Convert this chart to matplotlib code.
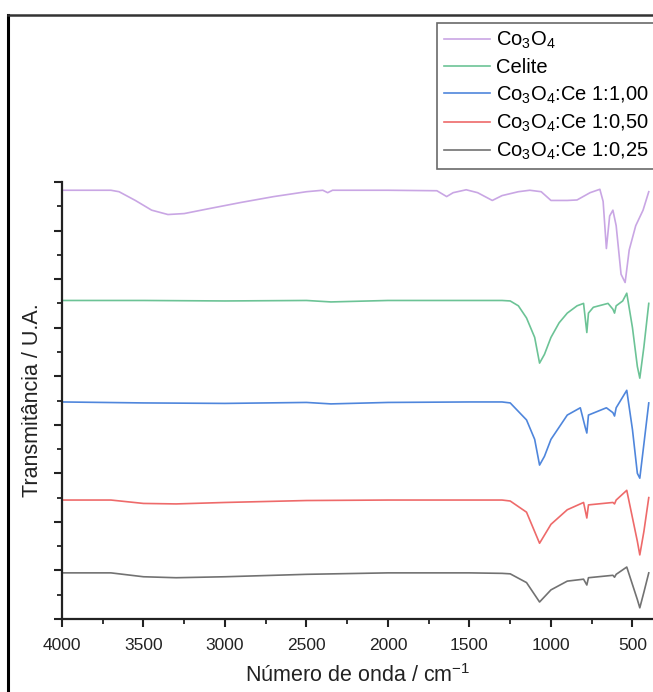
import numpy as np
import matplotlib.pyplot as plt
from matplotlib.lines import Line2D
from matplotlib.ticker import MultipleLocator, NullFormatter

plt.rcParams['font.family'] = ['Liberation Sans', 'DejaVu Sans']
plt.rcParams['mathtext.fontset'] = 'custom'
plt.rcParams['mathtext.rm'] = 'Liberation Sans'
plt.rcParams['mathtext.it'] = 'Liberation Sans:italic'

# FTIR spectra (wavenumber in cm-1, transmittance in stacked U.A.)
co3o4_x = [4000, 3700, 3650, 3550, 3450, 3350, 3250, 3100, 2900, 2700, 2500, 2400, 2370, 2340,
           2000, 1700, 1640, 1600, 1520, 1450, 1360, 1300, 1200, 1130, 1060, 1000, 900, 840,
           760, 700, 680, 660, 640, 620, 600, 570, 545, 520, 480, 435, 400]
co3o4_y = [8.83, 8.83, 8.80, 8.62, 8.42, 8.33, 8.35, 8.45, 8.58, 8.70, 8.80, 8.83, 8.78, 8.83,
           8.83, 8.82, 8.70, 8.78, 8.84, 8.78, 8.62, 8.72, 8.80, 8.83, 8.80, 8.62, 8.62, 8.63,
           8.78, 8.85, 8.60, 7.63, 8.30, 8.42, 8.10, 7.10, 6.93, 7.60, 8.10, 8.42, 8.80]

celite_x = [4000, 3500, 3000, 2500, 2350, 2000, 1500, 1300, 1250, 1200, 1150, 1100, 1070, 1040,
            1000, 950, 900, 840, 800, 790, 780, 770, 740, 650, 620, 610, 600, 560, 535, 500,
            470, 455, 430, 400]
celite_y = [6.56, 6.56, 6.55, 6.56, 6.53, 6.56, 6.56, 6.56, 6.55, 6.45, 6.20, 5.80, 5.27, 5.45,
            5.80, 6.10, 6.30, 6.45, 6.50, 6.20, 5.90, 6.30, 6.42, 6.50, 6.38, 6.30, 6.45, 6.55,
            6.71, 6.00, 5.20, 4.96, 5.60, 6.50]

ce100_x = [4000, 3500, 3000, 2500, 2350, 2000, 1500, 1300, 1250, 1150, 1100, 1070, 1040, 1000,
           900, 820, 790, 780, 770, 660, 620, 610, 600, 535, 500, 470, 455, 430, 400]
ce100_y = [4.47, 4.45, 4.44, 4.46, 4.43, 4.46, 4.47, 4.47, 4.45, 4.10, 3.70, 3.17, 3.35, 3.70,
           4.20, 4.35, 3.95, 3.83, 4.20, 4.35, 4.25, 4.18, 4.35, 4.71, 3.90, 3.00, 2.90, 3.60,
           4.45]

ce050_x = [4000, 3700, 3500, 3300, 3000, 2500, 2000, 1500, 1300, 1250, 1150, 1070, 1000, 900,
           800, 780, 770, 620, 610, 600, 535, 470, 455, 430, 400]
ce050_y = [2.45, 2.45, 2.38, 2.37, 2.40, 2.44, 2.45, 2.45, 2.45, 2.43, 2.20, 1.56, 1.95, 2.25,
           2.40, 2.08, 2.35, 2.40, 2.37, 2.45, 2.65, 1.60, 1.32, 1.80, 2.50]

ce025_x = [4000, 3700, 3500, 3300, 3000, 2500, 2000, 1500, 1300, 1250, 1150, 1070, 1000, 900,
           800, 780, 770, 620, 610, 600, 535, 470, 455, 430, 400]
ce025_y = [0.95, 0.95, 0.87, 0.85, 0.87, 0.92, 0.95, 0.95, 0.94, 0.93, 0.75, 0.35, 0.60, 0.78,
           0.82, 0.70, 0.85, 0.90, 0.86, 0.92, 1.07, 0.40, 0.23, 0.55, 0.95]

labels = [r'Co$_\mathregular{3}$O$_\mathregular{4}$', 'Celite',
          r'Co$_\mathregular{3}$O$_\mathregular{4}$:Ce 1:1,00',
          r'Co$_\mathregular{3}$O$_\mathregular{4}$:Ce 1:0,50',
          r'Co$_\mathregular{3}$O$_\mathregular{4}$:Ce 1:0,25']
colors = ['#c9a6e4', '#6cc396', '#4f86dc', '#ee6a6a', '#727272']

fig = plt.figure(figsize=(6.53, 6.92), dpi=100)
W, H = 653, 692
ax = fig.add_axes([62 / W, (H - 619) / H, (W - 62) / W, (619 - 182) / H])

series = [(co3o4_x, co3o4_y), (celite_x, celite_y), (ce100_x, ce100_y),
          (ce050_x, ce050_y), (ce025_x, ce025_y)]
for (x, y), lab, c in zip(series, labels, colors):
    ax.plot(x, y, color=c, lw=1.2, label=lab)

ax.set_xlim(4000, 374)
ax.set_ylim(0, 9)
ax.xaxis.set_major_locator(MultipleLocator(500))
ax.xaxis.set_minor_locator(MultipleLocator(250))
ax.yaxis.set_major_locator(MultipleLocator(1))
ax.yaxis.set_minor_locator(MultipleLocator(0.5))
ax.yaxis.set_major_formatter(NullFormatter())
ax.spines['top'].set_visible(False)
ax.spines['right'].set_visible(False)
for s in ['left', 'bottom']:
    ax.spines[s].set_linewidth(1.6)
    ax.spines[s].set_color('#222222')
ax.tick_params(which='major', direction='out', length=6, width=1.5, color='#222222',
               labelsize=12.5, labelcolor='#222222', pad=8)
ax.tick_params(which='minor', direction='out', length=3.5, width=1.3, color='#222222')

ax.set_xlabel('Número de onda / cm$^\\mathregular{-1}$', fontsize=15.5, color='#222222', labelpad=8)
ax.set_ylabel('Transmitância / U.A.', fontsize=15.5, color='#222222', labelpad=0)

leg = ax.legend(loc='upper left', bbox_to_anchor=(437 / W, 1 - 23 / H), bbox_transform=fig.transFigure,
                frameon=True, fancybox=False, fontsize=14.5, handlelength=2.3, handletextpad=0.3,
                borderpad=0.35, labelspacing=0.35, borderaxespad=0)
leg.get_frame().set_edgecolor('#444444')
leg.get_frame().set_linewidth(1.2)

# outer frame seen at the top and left of the cropped picture
fig.add_artist(Line2D([8 / W, 8 / W], [0, 1 - 15 / H], transform=fig.transFigure, color='black', lw=2.2))
fig.add_artist(Line2D([8 / W, 1], [1 - 15 / H, 1 - 15 / H], transform=fig.transFigure, color='#333333', lw=1.8))

fig.savefig('out.png', dpi=100)
